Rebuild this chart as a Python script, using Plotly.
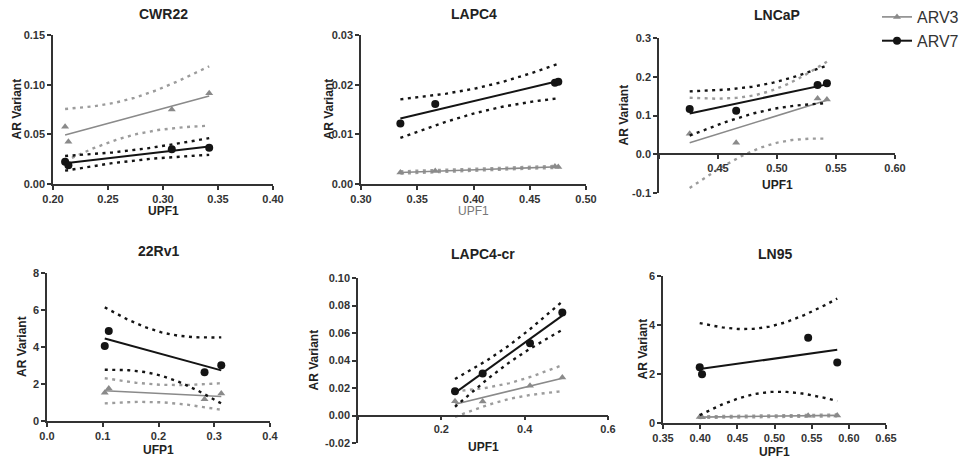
import numpy as np
import plotly.graph_objects as go

# two-sided 95% Student t critical value, df = n - 2 = 2 (4 samples per line)
T_CRIT = 4.302653

cell_lines = ["CWR22", "LAPC4", "LNCaP", "22Rv1", "LAPC4-cr", "LN95"]

# ---- values ----
cwr22_upf1 = [0.211, 0.214, 0.308, 0.342]
cwr22_arv3 = [0.0577, 0.0426, 0.0750, 0.0913]
cwr22_arv7 = [0.0225, 0.0190, 0.0350, 0.0366]

lapc4_upf1 = [0.335, 0.366, 0.4724, 0.4754]
lapc4_arv3 = [0.0023, 0.0026, 0.0035, 0.0034]
lapc4_arv7 = [0.0122, 0.0161, 0.0204, 0.0206]

lncap_upf1 = [0.426, 0.4654, 0.5344, 0.5423]
lncap_arv3 = [0.053, 0.030, 0.144, 0.141]
lncap_arv7 = [0.117, 0.1125, 0.179, 0.183]

rv1_upf1 = [0.1036, 0.1108, 0.2826, 0.3126]
rv1_arv3 = [1.53, 1.76, 1.17, 1.49]
rv1_arv7 = [4.05, 4.87, 2.63, 3.02]

lapc4cr_upf1 = [0.2328, 0.2992, 0.4128, 0.4904]
lapc4cr_arv3 = [0.0104, 0.0101, 0.0217, 0.0277]
lapc4cr_arv7 = [0.0176, 0.0306, 0.0525, 0.0749]

ln95_upf1 = [0.3994, 0.4025, 0.5453, 0.5844]
ln95_arv3 = [0.25, 0.23, 0.30, 0.31]
ln95_arv7 = [2.28, 1.99, 3.48, 2.47]

# axis ticks
cwr22_xticks = [0.20, 0.25, 0.30, 0.35, 0.40]
cwr22_yticks = [0.00, 0.05, 0.10, 0.15]
lapc4_xticks = [0.30, 0.35, 0.40, 0.45, 0.50]
lapc4_yticks = [0.00, 0.01, 0.02, 0.03]
lncap_xticks = [0.40, 0.45, 0.50, 0.55, 0.60]
lncap_yticks = [-0.1, 0.0, 0.1, 0.2, 0.3]
rv1_xticks = [0.0, 0.1, 0.2, 0.3, 0.4]
rv1_yticks = [0, 2, 4, 6, 8]
lapc4cr_xticks = [0.0, 0.2, 0.4, 0.6]
lapc4cr_yticks = [-0.02, 0.00, 0.02, 0.04, 0.06, 0.08, 0.10]
ln95_xticks = [0.35, 0.40, 0.45, 0.50, 0.55, 0.60, 0.65]
ln95_yticks = [0, 2, 4, 6]

x_titles = ["UPF1", "UPF1", "UPF1", "UFP1", "UPF1", "UPF1"]
series_names = ["ARV3", "ARV7"]

data = [
    (cwr22_upf1, cwr22_arv3, cwr22_arv7),
    (lapc4_upf1, lapc4_arv3, lapc4_arv7),
    (lncap_upf1, lncap_arv3, lncap_arv7),
    (rv1_upf1, rv1_arv3, rv1_arv7),
    (lapc4cr_upf1, lapc4cr_arv3, lapc4cr_arv7),
    (ln95_upf1, ln95_arv3, ln95_arv7),
]
ticks = [
    (cwr22_xticks, cwr22_yticks, "{:.2f}", "{:.2f}", False, False),
    (lapc4_xticks, lapc4_yticks, "{:.2f}", "{:.2f}", False, False),
    (lncap_xticks, lncap_yticks, "{:.2f}", "{:.1f}", True, True),
    (rv1_xticks, rv1_yticks, "{:.1f}", "{:.0f}", False, False),
    (lapc4cr_xticks, lapc4cr_yticks, "{:.1f}", "{:.2f}", True, True),
    (ln95_xticks, ln95_yticks, "{:.2f}", "{:.0f}", False, False),
]

W, H = 968, 466
# plot boxes in pixels: (left, right, top, bottom)
boxes = [
    (53, 273, 35, 184),
    (361, 586, 35, 184),
    (659, 895, 38, 193),
    (47, 270, 273, 421),
    (358, 608, 278, 443),
    (663, 886, 276, 423),
]
title_y = [14, 14, 15, 251, 254, 254]
ytitle_x = [16, 328, 623, 22, 313, 642]
xtitle_y = [211, 211, 185, 450, 447, 452]

GRAY = "#8a8a8a"
GRAY_DOT = "#9c9c9c"
BLACK = "#141414"
AXC = "#333333"
DOTS = "3px,4.5px"
FONT = "Arial, Liberation Sans, sans-serif"


def fit(x, y):
    x = np.asarray(x, float)
    y = np.asarray(y, float)
    n = len(x)
    b, a = np.polyfit(x, y, 1)
    xs = np.linspace(x.min(), x.max(), 80)
    yh = a + b * xs
    resid = y - (a + b * x)
    s = np.sqrt(np.sum(resid ** 2) / (n - 2))
    sxx = np.sum((x - x.mean()) ** 2)
    half = T_CRIT * s * np.sqrt(1.0 / n + (xs - x.mean()) ** 2 / sxx)
    return xs, yh, yh - half, yh + half


fig = go.Figure()
annotations = []
layout_axes = {}


def ann(text, px, py, font, angle=0):
    return dict(text=text, x=px / W, y=1 - py / H, xref="paper", yref="paper",
                xanchor="center", yanchor="middle", textangle=angle,
                showarrow=False, font=font)


for i, name in enumerate(cell_lines):
    k = i + 1
    xa = "x" if k == 1 else f"x{k}"
    ya = "y" if k == 1 else f"y{k}"
    x, a3, a7 = data[i]
    for series, y, col, dotcol, sym, msize, lw in [
        ("ARV3", a3, GRAY, GRAY_DOT, "triangle-up", 7, 1.6),
        ("ARV7", a7, BLACK, BLACK, "circle", 8, 2.0),
    ]:
        xs, yh, lo, hi = fit(x, y)
        for band in (lo, hi):
            fig.add_trace(go.Scatter(x=xs, y=band, mode="lines", xaxis=xa, yaxis=ya,
                                     line=dict(color=dotcol, width=2.4, dash=DOTS),
                                     showlegend=False, hoverinfo="skip", cliponaxis=False))
        fig.add_trace(go.Scatter(x=xs, y=yh, mode="lines", xaxis=xa, yaxis=ya,
                                 line=dict(color=col, width=lw),
                                 showlegend=False, hoverinfo="skip", cliponaxis=False))
        fig.add_trace(go.Scatter(x=x, y=y, mode="markers", xaxis=xa, yaxis=ya,
                                 marker=dict(color=col, symbol=sym, size=msize),
                                 name=series, showlegend=False, cliponaxis=False))

    xt, yt, xf, yf, hide_first_x, x_at_zero = ticks[i]
    L, R, T, B = boxes[i]
    xdom = [L / W, R / W]
    ydom = [1 - B / H, 1 - T / H]
    xr = [xt[0], xt[-1]]
    yr = [yt[0], yt[-1]]
    xtext = [xf.format(v) for v in xt]
    if hide_first_x:
        xtext[0] = ""
    ytext = [yf.format(v) for v in yt]
    common = dict(showgrid=False, zeroline=False, showline=True, linecolor=AXC, linewidth=1.5,
                  ticks="outside", ticklen=4, tickwidth=1.5, tickcolor=AXC,
                  tickfont=dict(family=FONT, size=11, color=AXC, weight="bold"),
                  tickmode="array", automargin=False)
    xax = dict(common, domain=xdom, range=xr, tickvals=xt, ticktext=xtext)
    if x_at_zero:
        frac = (0 - yr[0]) / (yr[1] - yr[0])
        xax.update(anchor="free", position=ydom[0] + frac * (ydom[1] - ydom[0]))
    else:
        xax.update(anchor=ya)
    yax = dict(common, domain=ydom, range=yr, tickvals=yt, ticktext=ytext, anchor=xa)
    layout_axes["xaxis" if k == 1 else f"xaxis{k}"] = xax
    layout_axes["yaxis" if k == 1 else f"yaxis{k}"] = yax

    cx = (L + R) / 2
    annotations.append(ann(f"<b>{name}</b>", cx, title_y[i], dict(family=FONT, size=14, color="#222")))
    annotations.append(ann("<b>AR Variant</b>", ytitle_x[i], (T + B) / 2,
                           dict(family=FONT, size=12, color="#222"), angle=-90))
    if i == 1:
        annotations.append(ann(x_titles[i], cx, xtitle_y[i], dict(family=FONT, size=12, color="#777")))
    else:
        annotations.append(ann(f"<b>{x_titles[i]}</b>", cx, xtitle_y[i], dict(family=FONT, size=12, color="#222")))

# legend entries
fig.add_trace(go.Scatter(x=[None], y=[None], mode="lines+markers", name=series_names[0],
                         line=dict(color=GRAY, width=1.6),
                         marker=dict(color=GRAY, symbol="triangle-up", size=7)))
fig.add_trace(go.Scatter(x=[None], y=[None], mode="lines+markers", name=series_names[1],
                         line=dict(color=BLACK, width=2.0),
                         marker=dict(color=BLACK, symbol="circle", size=8)))

fig.update_layout(
    width=W, height=H, margin=dict(l=0, r=0, t=0, b=0, autoexpand=False),
    paper_bgcolor="white", plot_bgcolor="white",
    font=dict(family=FONT, color="#222"),
    annotations=annotations,
    legend=dict(x=877 / W, y=1.0, xanchor="left", yanchor="top",
                bgcolor="rgba(0,0,0,0)", font=dict(family=FONT, size=16, color="#333"),
                itemwidth=30),
    **layout_axes,
)

fig.write_html("out.html", config={"displayModeBar": False},
               post_script="document.body.style.margin='0';")
